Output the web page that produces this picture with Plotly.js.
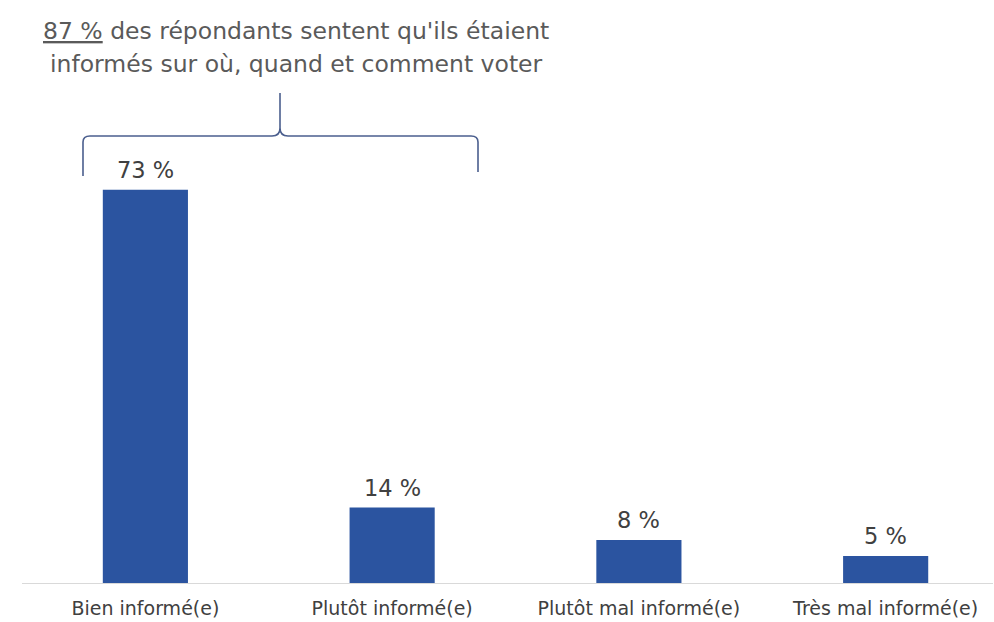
<!DOCTYPE html>
<html>
<head>
<meta charset="utf-8">
<script src="https://cdn.plot.ly/plotly-3.0.1.min.js"></script>
<style>html,body{margin:0;padding:0;background:#fff;}#chart{width:994px;height:622px;}</style>
</head>
<body>
<div id="chart"></div>
<script>
var categories = ["Bien informé(e)", "Plutôt informé(e)", "Plutôt mal informé(e)", "Très mal informé(e)"];
var values = [73, 14, 8, 5];
var valueLabels = ["73 %", "14 %", "8 %", "5 %"];
var headlineLines = ["<u>87 %</u> des répondants sentent qu'ils étaient", "informés sur où, quand et comment voter"];

var W = 994, H = 622;
var M = {l: 22, r: 1, t: 179, b: 39};
var pw = W - M.l - M.r, ph = H - M.t - M.b;
function px(x){ return (x - M.l) / pw; }
function py(y){ return (H - M.b - y) / ph; }

var FONT = "'DejaVu Sans', Verdana, sans-serif";
var barColor = "#2b54a0";
var textColor = "#404040";

var trace = {
  type: "bar",
  x: categories,
  y: values,
  marker: {color: barColor},
  width: 0.345,
  hoverinfo: "none"
};

var annotations = categories.map(function(c, i){
  return {
    x: c, y: values[i], xref: "x", yref: "y",
    text: valueLabels[i], showarrow: false,
    yanchor: "bottom", yshift: 5,
    font: {family: FONT, size: 22.5, color: textColor}
  };
});
var headY = [31, 64];
headlineLines.forEach(function(t, i){
  annotations.push({
    xref: "paper", yref: "paper", x: px(296), y: py(headY[i]),
    xanchor: "center", yanchor: "middle", align: "center",
    text: t, showarrow: false,
    font: {family: FONT, size: 23.5, color: "#5a5a5a"}
  });
});

// brace path in pixel space, converted to paper
function P(x, y){ return px(x).toFixed(5) + "," + py(y).toFixed(5); }
var bracePath =
  "M" + P(83, 176) + " L" + P(83, 142) + " Q" + P(83, 136) + " " + P(90, 136) +
  " L" + P(272, 136) + " Q" + P(280, 136) + " " + P(280, 128) +
  " L" + P(280, 93) + " M" + P(280, 128) + " Q" + P(280, 136) + " " + P(288, 136) +
  " L" + P(471, 136) + " Q" + P(478, 136) + " " + P(478, 142) + " L" + P(478, 172);

var layout = {
  width: W, height: H,
  margin: M,
  paper_bgcolor: "#ffffff",
  plot_bgcolor: "#ffffff",
  showlegend: false,
  xaxis: {
    type: "category",
    range: [-0.5, 3.435],
    showline: true, linecolor: "#d9d9d9", linewidth: 1,
    ticks: "", showgrid: false, zeroline: false,
    ticklabelstandoff: 8,
    tickfont: {family: FONT, size: 19, color: textColor}
  },
  yaxis: {
    range: [0, 75],
    visible: false, showgrid: false, zeroline: false
  },
  annotations: annotations,
  shapes: [{
    type: "path", xref: "paper", yref: "paper",
    path: bracePath,
    line: {color: "#4b5f8e", width: 1.6}
  }]
};

Plotly.newPlot("chart", [trace], layout, {displayModeBar: false, staticPlot: true});
</script>
</body>
</html>
